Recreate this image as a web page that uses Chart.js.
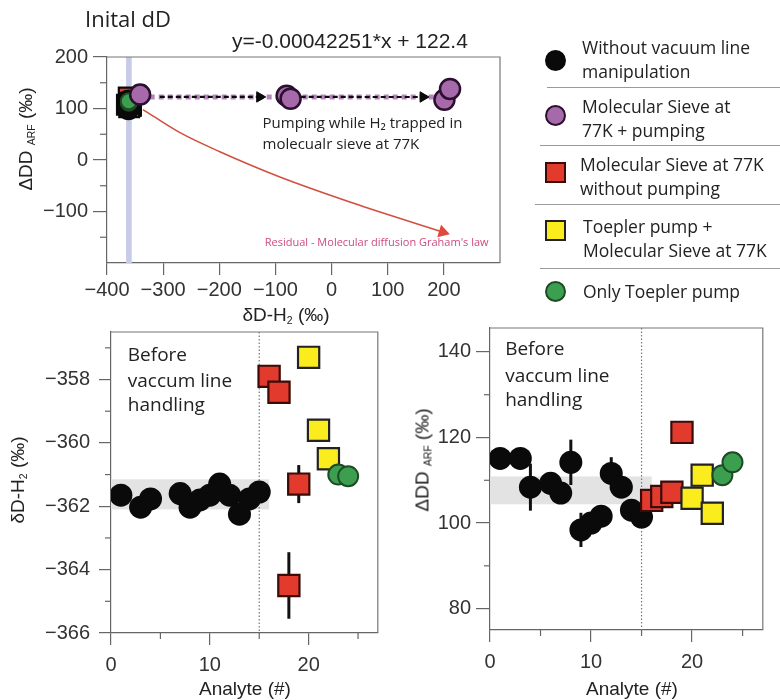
<!DOCTYPE html>
<html>
<head>
<meta charset="utf-8">
<script src="https://cdn.jsdelivr.net/npm/chart.js@4.4.1/dist/chart.umd.min.js"></script>
<style>
  body { margin: 0; background: #fff; width: 780px; height: 700px; position: relative; overflow: hidden; color: #222; }
  .box { position: absolute; }
  .t { position: absolute; white-space: nowrap; line-height: 1; }
  .ax { font-family: "Liberation Sans", Arial, sans-serif; font-size: 19px; transform: translate(-50%, -50%); }
  .rot { transform: translate(-50%, -50%) rotate(-90deg); }
  .ax sub { font-size: 55%; vertical-align: -0.25em; }
  .os { font-family: "Open Sans", sans-serif; }
  .leg { position: absolute; left: 0; top: 0; }
  .mk { position: absolute; box-sizing: border-box; }
  .lt { position: absolute; font-family: "Open Sans", sans-serif; font-size: 17.5px; line-height: 24px; white-space: nowrap; color: #222; }
  .sep { position: absolute; height: 1px; background: #9a9a9a; right: 0; }
</style>
</head>
<body>

<div class="box" style="left:0;top:0;width:520px;height:300px"><canvas id="top" width="520" height="300"></canvas></div>
<div class="box" style="left:0;top:300px;width:395px;height:390px"><canvas id="left" width="395" height="390"></canvas></div>
<div class="box" style="left:380px;top:300px;width:400px;height:390px"><canvas id="right" width="400" height="390"></canvas></div>

<div class="t os" style="left:85px;top:18px;font-size:22px;transform:translateY(-50%)">Inital dD</div>
<div class="t" style="left:232px;top:40px;font-size:21px;font-family:'Liberation Sans',Arial,sans-serif;transform:translateY(-50%)">y=-0.00042251*x + 122.4</div>

<div class="t ax" style="left:286px;top:316px">δD-H<sub>2</sub> (‰)</div>
<div class="t ax rot" style="left:27px;top:139px">ΔDD <sub>ARF</sub> (‰)</div>
<div class="t ax rot" style="left:19px;top:480px">δD-H<sub>2</sub> (‰)</div>
<div class="t ax rot" style="left:423px;top:460px">ΔDD <sub>ARF</sub> (‰)</div>
<div class="t ax" style="left:245px;top:688px">Analyte (#)</div>
<div class="t ax" style="left:632px;top:688px">Analyte (#)</div>

<div id="legend"></div>

<script>
// ---- top panel: initial dD vs ΔDD ARF ----
const sievePumpDeltaD = [-341, -80, -73, 201, 211];
const sievePumpDDarf = [127, 125, 119, 117, 138];
const fitSlope = -0.00042251;
const fitIntercept = 122.4;
const fitRange = [-340, 210];
const pumpArrows = [[-306, -128], [-55, 163]];
const grahamX = [-336, -270, -199, -92, 50, 198];
const grahamY = [98, 53, 16, -33, -88, -140];
const initialBand = [-366, -356];

// ---- bottom panels: per analyte ----
const blackAnalyteL = [1, 3, 4, 7, 8, 9, 10, 11, 12, 13, 14, 15];
const blackDeltaD = [-361.65, -362.03, -361.77, -361.6, -362.03, -361.8, -361.65, -361.3, -361.65, -362.25, -361.77, -361.55];
const blackAnalyteR = [1, 3, 4, 6, 7, 8, 9, 10, 11, 12, 13, 14, 15];
const blackDDarf = [115.1, 115.1, 108.4, 109.3, 107, 114.2, 98.4, 100, 101.6, 111.6, 108.4, 103, 101.4];
const blackDDarfErr = [0, 0, 5.5, 0, 0, 5.3, 4, 0, 0, 3.8, 0, 0, 0];

const redAnalyte = [16, 17, 18, 19];
const redDeltaD = [-357.9, -358.4, -364.5, -361.3];
const redDeltaDErr = [0, 0, 1.05, 0.6];
const redDDarf = [105.3, 106.2, 107.2, 121.2];

const yellowAnalyte = [20, 21, 22];
const yellowDeltaD = [-357.3, -359.6, -360.5];
const yellowDDarf = [105.8, 111.2, 102.3];

const greenAnalyte = [23, 24];
const greenDeltaD = [-361.0, -361.05];
const greenDDarf = [111.2, 114.2];

const baseBandL = [-361.15, -362.1];
const baseBandR = [104.4, 110.9];
const baseBandEnd = 16;
const handlingStart = 15;

// ---- styles ----
const C = {
  black: '#0a0a0a',
  purple: '#a66aab', purpleEdge: '#2b0f2e',
  red: '#e23a2c', redEdge: '#3b0b08',
  yellow: '#fbec1e', yellowEdge: '#222',
  green: '#3c9f4f', greenEdge: '#1e4a26'
};

const pts = (xs, ys) => xs.map((x, i) => ({ x: x, y: ys[i] }));
const fmt = v => (v < 0 ? '\u2212' + Math.abs(v) : '' + v);

const decor = {
  id: 'decor',
  beforeDatasetsDraw(chart, args, o) {
    const { ctx, chartArea: a } = chart;
    const xs = chart.scales.x, ys = chart.scales.y;
    const px = v => xs.getPixelForValue(v), py = v => ys.getPixelForValue(v);
    ctx.save();
    (o.bands || []).forEach(b => {
      const x0 = b.x0 == null ? a.left : px(b.x0), x1 = b.x1 == null ? a.right : px(b.x1);
      const y0 = b.y0 == null ? a.top : py(b.y0), y1 = b.y1 == null ? a.bottom : py(b.y1);
      ctx.fillStyle = b.color;
      ctx.fillRect(Math.min(x0, x1), Math.min(y0, y1), Math.abs(x1 - x0), Math.abs(y1 - y0));
    });
    (o.vlines || []).forEach(v => {
      ctx.strokeStyle = v.color; ctx.lineWidth = v.width; ctx.setLineDash(v.dash || []);
      ctx.beginPath(); ctx.moveTo(px(v.x), a.top); ctx.lineTo(px(v.x), a.bottom); ctx.stroke();
    });
    ctx.setLineDash([]);
    // top and right sides of the box
    ctx.strokeStyle = '#777'; ctx.lineWidth = 1.2;
    ctx.beginPath(); ctx.moveTo(a.left, a.top); ctx.lineTo(a.right, a.top); ctx.lineTo(a.right, a.bottom); ctx.stroke();
    // minor ticks
    ctx.strokeStyle = '#666'; ctx.lineWidth = 1.2;
    (o.minorX || []).forEach(v => { ctx.beginPath(); ctx.moveTo(px(v), a.bottom); ctx.lineTo(px(v), a.bottom + o.minorLen); ctx.stroke(); });
    (o.minorY || []).forEach(v => { ctx.beginPath(); ctx.moveTo(a.left - o.minorLen, py(v)); ctx.lineTo(a.left, py(v)); ctx.stroke(); });
    // error bars
    chart.data.datasets.forEach(ds => {
      if (!ds.errors) return;
      ctx.strokeStyle = '#111'; ctx.lineWidth = 3;
      ds.data.forEach((p, j) => {
        const e = ds.errors[j];
        if (!e) return;
        ctx.beginPath(); ctx.moveTo(px(p.x), py(p.y - e)); ctx.lineTo(px(p.x), py(p.y + e)); ctx.stroke();
      });
    });
    ctx.restore();
  },
  afterDatasetsDraw(chart, args, o) {
    const { ctx } = chart;
    const xs = chart.scales.x, ys = chart.scales.y;
    ctx.save();
    ctx.textAlign = 'left'; ctx.textBaseline = 'middle';
    (o.texts || []).forEach(t => {
      ctx.font = t.font; ctx.fillStyle = t.color || '#222';
      ctx.fillText(t.text, xs.getPixelForValue(t.x), ys.getPixelForValue(t.y));
    });
    ctx.restore();
  }
};
Chart.register(decor);

function axis(min, max, major, size, tickLen, pad) {
  return {
    type: 'linear', min: min, max: max,
    afterBuildTicks: s => { s.ticks = major.map(v => ({ value: v })); },
    afterFit: s => { if (s.isHorizontal()) s.height = size; else s.width = size; },
    ticks: {
      callback: v => fmt(v), autoSkip: false, maxRotation: 0, padding: pad,
      color: '#333', font: { family: 'Liberation Sans', size: 20 }
    },
    grid: { drawOnChartArea: false, drawTicks: true, tickLength: tickLen, color: '#666', lineWidth: 1.2 },
    border: { display: true, color: '#666', width: 1.2 }
  };
}

function circles(data, fill, edge, r, bw, order) {
  return { data: data, pointStyle: 'circle', pointRadius: r, pointBackgroundColor: fill,
    pointBorderColor: edge, pointBorderWidth: bw, order: order };
}
function squares(data, fill, edge, r, order) {
  return { data: data, pointStyle: 'rect', pointRadius: r, pointBackgroundColor: fill,
    pointBorderColor: edge, pointBorderWidth: 2.2, order: order };
}

const common = {
  responsive: false, animation: false, events: [],
  plugins: { legend: { display: false }, tooltip: { enabled: false } }
};

// ---- top chart ----
const lookupDeltaD = {};
blackAnalyteL.forEach((a, i) => { lookupDeltaD[a] = blackDeltaD[i]; });
const blackTop = [];
blackAnalyteR.forEach((a, i) => { if (a in lookupDeltaD) blackTop.push({ x: lookupDeltaD[a], y: blackDDarf[i] }); });
const fitLine = fitRange.map(x => ({ x: x, y: fitSlope * x + fitIntercept }));

const arrowSets = pumpArrows.map(seg => ({
  data: seg.map(x => ({ x: x, y: fitSlope * x + fitIntercept })),
  showLine: true, borderColor: C.black, borderWidth: 2.2, borderDash: [5, 3],
  pointStyle: 'triangle', pointRadius: [0, 6], pointRotation: 90,
  pointBackgroundColor: C.black, pointBorderColor: C.black, pointBorderWidth: 1, order: 9
}));

new Chart(document.getElementById('top'), {
  type: 'scatter',
  data: {
    datasets: [
      { data: fitLine, showLine: true, borderColor: '#b683ba', borderWidth: 5, borderDash: [5, 4], pointRadius: 0, order: 10 },
      ...arrowSets,
      { data: pts(grahamX, grahamY), showLine: true, borderColor: '#d24f3f', borderWidth: 1.5, cubicInterpolationMode: 'monotone',
        pointStyle: 'triangle', pointRadius: grahamX.map((x, i) => (i === grahamX.length - 1 ? 6 : 0)), pointRotation: 107,
        pointBackgroundColor: '#e04a3c', pointBorderColor: '#e04a3c', order: 8 },
      squares(pts(redDeltaD, redDDarf), C.red, C.black, 14, 6),
      squares(pts(yellowDeltaD, yellowDDarf), C.yellow, C.black, 14, 5),
      circles(blackTop, C.black, C.black, 11, 0, 4),
      circles(pts(greenDeltaD, greenDDarf), C.green, C.greenEdge, 8, 2, 3),
      circles(pts(sievePumpDeltaD, sievePumpDDarf), C.purple, C.purpleEdge, 10, 2.5, 1)
    ]
  },
  options: {
    ...common,
    layout: { padding: { left: 0, top: 57, right: 20, bottom: 0 } },
    scales: {
      x: axis(-400, 300, [-400, -300, -200, -100, 0, 100, 200], 37, 12, 3),
      y: axis(-200, 200, [-100, 0, 100, 200], 107, 14, 5)
    },
    plugins: {
      ...common.plugins,
      decor: {
        bands: [{ x0: initialBand[0], x1: initialBand[1], color: '#c8cbe8' }],
        minorY: [-150, -50, 50, 150], minorLen: 7,
        texts: [
          { text: 'Pumping while H\u2082 trapped in', x: -123, y: 70, font: '15px "Open Sans"' },
          { text: 'molecualr sieve at 77K', x: -123, y: 29, font: '15px "Open Sans"' },
          { text: "Residual - Molecular diffusion Graham's law", x: -119, y: -161, font: '11px "Open Sans"', color: '#cc4a80' }
        ]
      }
    }
  }
});

// ---- bottom left: δD-H2 per analyte ----
const beforeFont = '19px "Open Sans"';
new Chart(document.getElementById('left'), {
  type: 'scatter',
  data: {
    datasets: [
      circles(pts(blackAnalyteL, blackDeltaD), C.black, C.black, 11.5, 0, 5),
      Object.assign(squares(pts(redAnalyte, redDeltaD), C.red, C.redEdge, 15, 4), { errors: redDeltaDErr }),
      squares(pts(yellowAnalyte, yellowDeltaD), C.yellow, C.yellowEdge, 15, 3),
      circles(pts(greenAnalyte, greenDeltaD), C.green, C.greenEdge, 10, 2, 2)
    ]
  },
  options: {
    ...common,
    layout: { padding: { left: 0, top: 32, right: 12, bottom: 0 } },
    scales: {
      x: axis(0, 27, [0, 10, 20], 57, 12, 8),
      y: axis(-366, -356.5, [-366, -364, -362, -360, -358], 111, 12, 9)
    },
    plugins: {
      ...common.plugins,
      decor: {
        bands: [{ x0: 0, x1: baseBandEnd, y0: baseBandL[0], y1: baseBandL[1], color: '#e3e3e3' }],
        vlines: [{ x: handlingStart, color: '#777', width: 1.2, dash: [1.5, 2] }],
        minorX: [5, 15, 25], minorY: [-365, -363, -361, -359, -357], minorLen: 6,
        texts: [
          { text: 'Before', x: 1.7, y: -357.24, font: beforeFont },
          { text: 'vaccum line', x: 1.7, y: -358.06, font: beforeFont },
          { text: 'handling', x: 1.7, y: -358.82, font: beforeFont }
        ]
      }
    }
  }
});

// ---- bottom right: ΔDD ARF per analyte ----
new Chart(document.getElementById('right'), {
  type: 'scatter',
  data: {
    datasets: [
      Object.assign(circles(pts(blackAnalyteR, blackDDarf), C.black, C.black, 11.5, 0, 5), { errors: blackDDarfErr }),
      squares(pts(redAnalyte, redDDarf), C.red, C.redEdge, 15, 4),
      squares(pts(yellowAnalyte, yellowDDarf), C.yellow, C.yellowEdge, 15, 3),
      circles(pts(greenAnalyte, greenDDarf), C.green, C.greenEdge, 10, 2, 2)
    ]
  },
  options: {
    ...common,
    layout: { padding: { left: 0, top: 28, right: 15, bottom: 0 } },
    scales: {
      x: axis(0, 27, [0, 10, 20], 60, 12, 8),
      y: axis(75, 145.6, [80, 100, 120, 140], 110, 14, 5)
    },
    plugins: {
      ...common.plugins,
      decor: {
        bands: [{ x0: 0, x1: baseBandEnd, y0: baseBandR[0], y1: baseBandR[1], color: '#e3e3e3' }],
        vlines: [{ x: handlingStart, color: '#777', width: 1.2, dash: [1.5, 2] }],
        minorX: [5, 15, 25], minorY: [90, 110, 130], minorLen: 6,
        texts: [
          { text: 'Before', x: 1.5, y: 140.5, font: beforeFont },
          { text: 'vaccum line', x: 1.5, y: 134.2, font: beforeFont },
          { text: 'handling', x: 1.5, y: 128.6, font: beforeFont }
        ]
      }
    }
  }
});

// ---- legend (html) ----
const legendItems = [
  { lines: ['Without vacuum line', 'manipulation'], shape: 'circle', fill: C.black, edge: C.black, my: 60, ty: 47, tx: 582 },
  { lines: ['Molecular Sieve at', '77K + pumping'], shape: 'circle', fill: C.purple, edge: C.purpleEdge, my: 115, ty: 106, tx: 582 },
  { lines: ['Molecular Sieve at 77K', 'without pumping'], shape: 'rect', fill: C.red, edge: C.redEdge, my: 172, ty: 164, tx: 580 },
  { lines: ['Toepler pump +', 'Molecular Sieve at 77K'], shape: 'rect', fill: C.yellow, edge: C.yellowEdge, my: 230, ty: 226, tx: 583 },
  { lines: ['Only Toepler pump'], shape: 'circle', fill: C.green, edge: C.greenEdge, my: 291, ty: 291, tx: 583 }
];
const separators = [[87, 547], [145, 540], [204, 535], [268, 540]];

const leg = document.getElementById('legend');
legendItems.forEach(it => {
  const m = document.createElement('div');
  m.className = 'mk';
  const s = 21;
  m.style.cssText += `left:${555 - s / 2}px;top:${it.my - s / 2}px;width:${s}px;height:${s}px;background:${it.fill};border:2px solid ${it.edge};border-radius:${it.shape === 'circle' ? '50%' : '0'}`;
  leg.appendChild(m);
  it.lines.forEach((ln, k) => {
    const d = document.createElement('div');
    d.className = 'lt';
    d.textContent = ln;
    d.style.left = it.tx + 'px';
    d.style.top = (it.ty + k * 24 - 12) + 'px';
    leg.appendChild(d);
  });
});
separators.forEach(([y, x]) => {
  const d = document.createElement('div');
  d.className = 'sep';
  d.style.top = y + 'px';
  d.style.left = x + 'px';
  leg.appendChild(d);
});
</script>
</body>
</html>
